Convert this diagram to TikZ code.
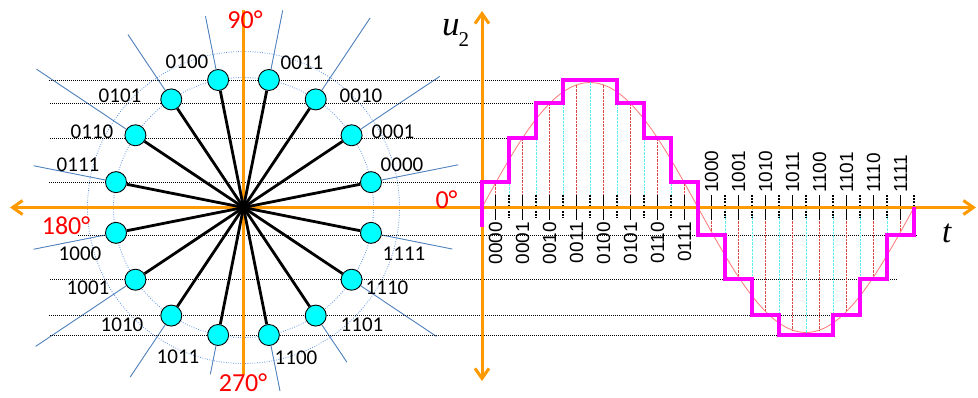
\documentclass[tikz,border=0pt]{standalone}
\usepackage{fontspec}
\setmainfont{Carlito}
\newfontfamily\arialf{Liberation Sans}
\newfontfamily\timesf{Liberation Serif}
\usetikzlibrary{arrows.meta,calc}
\pgfdeclarelayer{bg}
\pgfsetlayers{bg,main}
\definecolor{axorange}{RGB}{255,153,0}
\definecolor{nodecyan}{RGB}{0,255,255}
\definecolor{spokeblue}{RGB}{79,129,189}
\definecolor{ringblue}{RGB}{90,145,230}
\definecolor{stepmag}{RGB}{255,0,255}
\definecolor{sinered}{RGB}{255,120,120}
\definecolor{vred}{RGB}{220,70,70}
\definecolor{vcyan}{RGB}{90,240,240}
\definecolor{degred}{RGB}{255,0,0}
\begin{document}
\begin{tikzpicture}[x=1pt,y=-1pt,
  cnode/.style={circle,draw=black,line width=0.9pt,fill=nodecyan,minimum size=21pt,inner sep=0pt},
  binlab/.style={inner sep=0pt,font=\fontsize{21}{21}\selectfont},
  deglab/.style={inner sep=0pt,text=degred,font=\fontsize{26}{26}\selectfont},
  rotlab/.style={inner sep=0pt,rotate=90,font=\arialf\fontsize{19}{19}\selectfont},
  ring/.style={draw=ringblue,line width=0.8pt,dash pattern=on 0.8pt off 1.6pt},
  ray/.style={draw=spokeblue,line width=0.9pt},
  spoke/.style={draw=black,line width=2.8pt},
  hdot/.style={draw=black,line width=0.8pt,dash pattern=on 0.8pt off 1.2pt},
  orangeax/.style={draw=axorange,line width=3pt},
  dbl/.style={arrows={{Straight Barb[length=10pt,width=14pt]}-{Straight Barb[length=10pt,width=14pt]}}},
  vredl/.style={draw=vred,line width=0.7pt,dash pattern=on 2.5pt off 1pt},
  vcyanl/.style={draw=vcyan,line width=0.7pt,dash pattern=on 2.5pt off 1pt},
  tickl/.style={draw=black,line width=1.2pt},
  tickd/.style={draw=black,line width=1.6pt,dash pattern=on 1.6pt off 1.6pt},
  stepl/.style={draw=stepmag,line width=4.5pt,line join=miter},
  sinel/.style={draw=sinered,line width=0.8pt}
]
\useasboundingbox (0,0) rectangle (978,398);
\coordinate (C) at (243.5,207.5);
% left nodes
\foreach \k in {0,...,15} {
  \pgfmathsetmacro\ang{11.25+22.5*\k}
  \node[cnode] (n\k) at ($(C)+(\ang:130pt)$) {};
}
% left labels
\foreach \k/\t/\lx/\ly in {0/0000/402/165,1/0001/393/132,2/0010/361/96,3/0011/302/63,
  4/0100/187/62,5/0101/120/96,6/0110/92/132,7/0111/78/165,
  8/1000/80/254,9/1001/88/288,10/1010/122/325,11/1011/178/357,
  12/1100/296/358,13/1101/362/325,14/1110/387/288,15/1111/404/254}
  \node[binlab] (l\k) at (\lx,\ly) {\t};
% degree labels
\node[deglab] (d90) at (245,20) {90°};
\node[deglab] (d180) at (66,226) {180°};
\node[deglab] (d270) at (243,383) {270°};
\node[deglab] (d0) at (446.5,200) {0°};
% axis labels
\node[anchor=base west,inner sep=0pt] (u2) at (442,36) {\timesf\fontsize{35}{35}\selectfont\itshape u\kern-1pt\raisebox{-11pt}{\upshape\fontsize{21}{21}\selectfont 2}};
\node[anchor=base west,inner sep=0pt] (tl) at (942,243) {\timesf\fontsize{33}{33}\selectfont\itshape t};
% rotated code labels
\foreach \k/\t in {0/0000,1/0001,2/0010,3/0011,4/0100,5/0101,6/0110,7/0111}
  \node[rotlab,anchor=east] (p\k) at (495.5+27*\k,222) {\t};
\foreach \k/\t in {8/1000,9/1001,10/1010,11/1011,12/1100,13/1101,14/1110,15/1111}
  \node[rotlab,anchor=west] (q\k) at (495.5+27*\k,193) {\t};

\begin{pgfonlayer}{bg}
\fill[white] (0,0) rectangle (978,398);
\draw[ring] (C) circle[radius=130pt];
\draw[ring] (C) circle[radius=156pt];
\foreach \k/\R in {0/219,1/236,2/228,3/201,4/195,5/208,6/249,7/214,8/214,9/250,10/204,11/170,12/187,13/186,14/232,15/213} {
  \pgfmathsetmacro\ang{11.25+22.5*\k}
  \coordinate (re\k) at ($(C)+(\ang:\R pt)$);
  \draw[ray] (n\k) -- (re\k);
}
% dotted horizontal level lines
\foreach \i/\xa/\xb/\yy in {1/49/590/80,2/50/564/103,3/50/536/138,4/49/509/182,
  5/78/917/235,6/50/897/279,7/49/861/315,8/50/833/335} {
  \coordinate (hl\i) at (\xa,\yy);
  \coordinate (hr\i) at (\xb,\yy);
  \draw[hdot] (hl\i) -- (hr\i);
}
% sine
\draw[sinel] plot[domain=0:360,samples=140] ({482+1.2*\x},{207.5-125*sin(\x)});
% red sample lines
\foreach \k in {0,...,15} {
  \pgfmathsetmacro\mx{495.5+27*\k}
  \pgfmathsetmacro\my{207.5-125*sin(11.25+22.5*\k)}
  \draw[vredl] (\mx,207.5) -- (\mx,\my);
}
% cyan boundary lines
\foreach \k/\L in {1/138,2/103,3/80,4/80,5/80,6/103,7/138,9/279,10/315,11/335,12/335,13/335,14/315,15/279} {
  \pgfmathsetmacro\bx{482+27*\k}
  \draw[vcyanl] (\bx,207.5) -- (\bx,\L);
}
% ticks
\foreach \k in {0,...,15} {
  \pgfmathsetmacro\mx{495.5+27*\k}
  \draw[tickl] (\mx,195) -- (\mx,220);
}
\foreach \k in {1,...,16} {
  \pgfmathsetmacro\bx{482+27*\k}
  \draw[tickd] (\bx,195) -- (\bx,218);
}
% orange axes
\coordinate (axL) at (10,207.5);
\coordinate (axR) at (976,207.5);
\coordinate (avT) at (482,11);
\coordinate (avB) at (482,381);
\coordinate (lvT) at (243.5,10);
\coordinate (lvB) at (243.5,375);
\draw[orangeax] (lvT) -- (lvB);
\draw[orangeax,dbl] (axL) -- (axR);
\draw[orangeax,dbl] (avT) -- (avB);
% spokes
\foreach \k in {0,...,15} \draw[spoke] (C) -- (n\k);
% staircase
\draw[stepl] (482,227) -- (482,182) -- (509,182) -- (509,138) -- (536,138) -- (536,103) -- (563,103) -- (563,80)
  -- (617,80) -- (617,103) -- (644,103) -- (644,138) -- (671,138) -- (671,182) -- (698,182)
  -- (698,235) -- (725,235) -- (725,279) -- (752,279) -- (752,315) -- (779,315) -- (779,335)
  -- (833,335) -- (833,315) -- (860,315) -- (860,279) -- (887,279) -- (887,235) -- (914,235) -- (914,207.5);
\end{pgfonlayer}
\end{tikzpicture}
\end{document}
